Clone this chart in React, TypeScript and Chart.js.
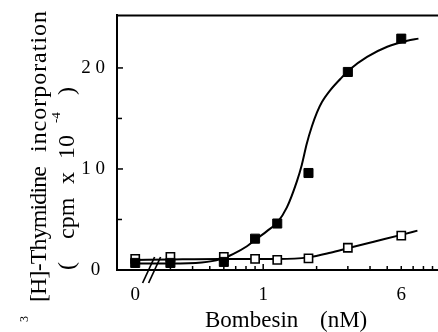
import React, { useEffect, useRef } from 'react';
import { Chart, registerables } from 'chart.js';

Chart.register(...registerables);

// Axis settings (log dose axis; dose 0 is shown left of the axis break)
const ZERO_POS = 0.19;
const BREAK_AT = 0.235;
const X_MIN = 0.15;
const X_MAX = 9.74;
const Y_MAX = 25.2;

// Measured points
const doses = [0, 0.3, 0.6, 0.9, 1.2, 1.8, 3, 6];
const filledValues = [0.7, 0.7, 0.8, 3.1, 4.6, 9.6, 19.6, 22.9];
const openValues = [1.1, 1.3, 1.3, 1.1, 1.0, 1.15, 2.2, 3.4];

// Fitted curves
const filledFitX = [0, 0.3, 0.45, 0.57, 0.68, 0.81, 0.92, 1.05, 1.2, 1.36, 1.55, 1.65, 1.76, 1.88, 2.01, 2.14, 2.39, 2.72, 3.1, 3.85, 5.0, 6.48, 7.5];
const filledFitY = [0.65, 0.65, 0.75, 1.05, 1.6, 2.35, 3.1, 3.85, 4.7, 6.2, 8.8, 10.4, 12.5, 14.2, 15.6, 16.6, 17.8, 18.9, 19.9, 21.1, 22.1, 22.7, 22.9];
const openFitX = [0, 0.3, 0.57, 0.88, 1.22, 1.8, 2.39, 3.07, 4.2, 6.08, 7.4];
const openFitY = [1.0, 1.05, 1.1, 1.08, 1.08, 1.25, 1.7, 2.2, 2.8, 3.5, 3.9];

// Ticks
const xTickValues = [ZERO_POS, 1, 6];
const xTickLabels = ['0', '1', '6'];
const xMinorTicks = [0.3, 0.4, 0.5, 0.6, 0.7, 0.8, 0.9, 2, 3, 4, 5, 6, 7, 8, 9];
const xMajorTicks = [1];
const yTickValues = [0, 10, 20];
const yTickLabels = ['0 ', '1 0', '2 0'];
const yMajorTicks = [10, 20];
const yMinorTicks = [5, 15];

const SERIF = '"Liberation Serif", "Times New Roman", serif';
const toX = (d: number) => (d === 0 ? ZERO_POS : d);

const overlay = {
  id: 'overlay',
  afterDraw(chart: any) {
    const { ctx, chartArea: a, scales } = chart;
    const x = scales.x;
    const y = scales.y;
    ctx.save();
    ctx.strokeStyle = '#000';
    ctx.fillStyle = '#000';
    const line = (x1: number, y1: number, x2: number, y2: number) => {
      ctx.beginPath();
      ctx.moveTo(x1, y1);
      ctx.lineTo(x2, y2);
      ctx.stroke();
    };
    // top frame line
    ctx.lineWidth = 2;
    line(a.left - 1, a.top, a.right, a.top);
    // inward ticks
    ctx.lineWidth = 1.5;
    yMajorTicks.forEach((v) => { const p = y.getPixelForValue(v); line(a.left, p, a.left + 6, p); });
    yMinorTicks.forEach((v) => { const p = y.getPixelForValue(v); line(a.left, p, a.left + 5, p); });
    xMinorTicks.forEach((v) => { const p = x.getPixelForValue(v); line(p, a.bottom, p, a.bottom - 4); });
    xMajorTicks.forEach((v) => { const p = x.getPixelForValue(v); line(p, a.bottom, p, a.bottom - 6); });
    // axis break marks
    const bx = x.getPixelForValue(BREAK_AT);
    ctx.lineWidth = 1.7;
    [-3, 3].forEach((off) => line(bx + off - 6, a.bottom + 13, bx + off + 6, a.bottom - 13));

    // text helpers
    const vText = (text: string, bx0: number, yStart: number, yEnd: number | null, size: number) => {
      ctx.save();
      ctx.font = `${size}px ${SERIF}`;
      let ls = 0;
      if (yEnd !== null) {
        const w = ctx.measureText(text).width;
        ls = (yStart - yEnd - w) / Math.max(1, text.length - 1);
      }
      (ctx as any).letterSpacing = `${ls}px`;
      ctx.translate(bx0, yStart);
      ctx.rotate(-Math.PI / 2);
      ctx.textAlign = 'left';
      ctx.textBaseline = 'alphabetic';
      ctx.fillText(text, 0, 0);
      ctx.restore();
    };
    // y title, line 1
    vText('3', 28, 322, null, 12);
    vText('[H]-Thymidine', 46, 302, 166, 24);
    vText('incorporation', 46, 152, 11, 24);
    // y title, line 2
    vText('(', 74, 270, null, 24);
    vText('cpm', 74, 239, null, 24);
    vText('x', 74, 184, null, 24);
    vText('10', 74, 159, null, 24);
    vText('-4', 60, 123, null, 13);
    vText(')', 74, 95, null, 24);

    // x title
    ctx.font = `23px ${SERIF}`;
    ctx.textAlign = 'left';
    ctx.textBaseline = 'alphabetic';
    ctx.fillText('Bombesin', 205, 327);
    ctx.fillText('(nM)', 320, 327);
    ctx.restore();
  },
};

const CANVAS_W = 446;
const CANVAS_H = 332;

export default function App() {
  const ref = useRef<HTMLCanvasElement | null>(null);
  useEffect(() => {
    if (!ref.current) return;
    const chart = new Chart(ref.current, {
      type: 'scatter',
      data: {
        datasets: [
          {
            label: 'filled',
            data: doses.map((d, i) => ({ x: toX(d), y: filledValues[i] })),
            showLine: false,
            pointStyle: 'rect',
            pointRadius: 6.4,
            backgroundColor: '#000',
            borderColor: '#000',
            borderWidth: 1,
            order: 0,
          },
          {
            label: 'open',
            data: doses.map((d, i) => ({ x: toX(d), y: openValues[i] })),
            showLine: false,
            pointStyle: 'rect',
            pointRadius: 5.8,
            backgroundColor: '#fff',
            borderColor: '#000',
            borderWidth: 1.6,
            order: 1,
          },
          {
            label: 'filled fit',
            data: filledFitX.map((v, i) => ({ x: toX(v), y: filledFitY[i] })),
            showLine: true,
            pointRadius: 0,
            borderColor: '#000',
            borderWidth: 2,
            cubicInterpolationMode: 'monotone',
            fill: false,
            order: 2,
          },
          {
            label: 'open fit',
            data: openFitX.map((v, i) => ({ x: toX(v), y: openFitY[i] })),
            showLine: true,
            pointRadius: 0,
            borderColor: '#000',
            borderWidth: 2,
            cubicInterpolationMode: 'monotone',
            fill: false,
            order: 3,
          },
        ],
      },
      options: {
        responsive: false,
        animation: false,
        events: [],
        layout: { padding: { top: 13, left: 0, right: 0, bottom: 0 } },
        plugins: { legend: { display: false }, tooltip: { enabled: false } },
        scales: {
          x: {
            type: 'logarithmic',
            min: X_MIN,
            max: X_MAX,
            afterBuildTicks: (s: any) => { s.ticks = xTickValues.map((v) => ({ value: v })); },
            afterFit: (s: any) => { s.height = 62; },
            ticks: {
              autoSkip: false,
              maxRotation: 0,
              padding: 6,
              color: '#000',
              font: { family: SERIF, size: 19 },
              callback: (_v: any, i: number) => xTickLabels[i],
            },
            grid: { display: false },
            border: { display: true, color: '#000', width: 2 },
          },
          y: {
            type: 'linear',
            min: 0,
            max: Y_MAX,
            afterBuildTicks: (s: any) => { s.ticks = yTickValues.map((v) => ({ value: v })); },
            afterFit: (s: any) => { s.width = 117; },
            ticks: {
              padding: 4,
              color: '#000',
              font: { family: SERIF, size: 19 },
              callback: (_v: any, i: number) => yTickLabels[i],
            },
            grid: { display: false },
            border: { display: true, color: '#000', width: 2 },
          },
        },
      },
      plugins: [overlay],
    } as any);
    return () => chart.destroy();
  }, []);
  return (
    <div style={{ position: 'fixed', left: 0, top: 0, width: 438, height: 332, overflow: 'hidden', background: '#fff' }}>
      <canvas ref={ref} width={CANVAS_W} height={CANVAS_H} style={{ width: CANVAS_W, height: CANVAS_H, display: 'block' }} />
    </div>
  );
}
